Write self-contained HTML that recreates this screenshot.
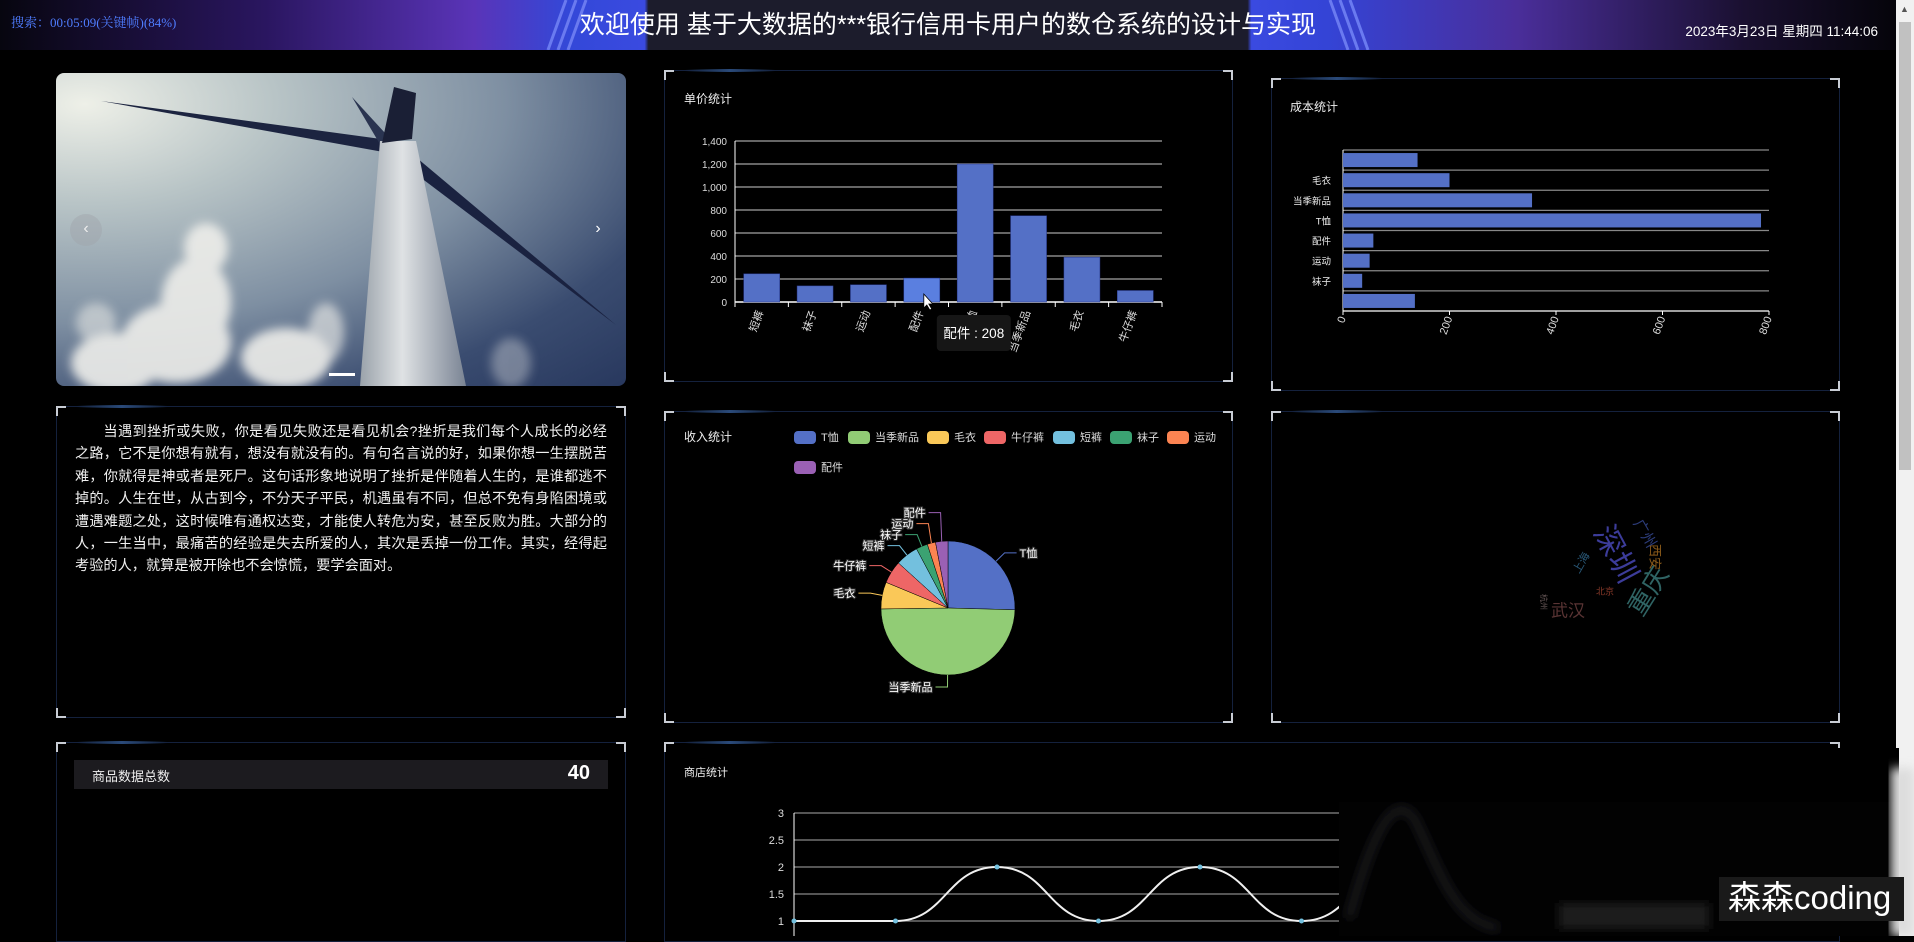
<!DOCTYPE html>
<html><head><meta charset="utf-8">
<style>
*{margin:0;padding:0;box-sizing:border-box}
body{width:1914px;height:936px;background:#000;overflow:hidden;position:relative;font-family:"Liberation Sans","Noto Sans CJK SC",sans-serif;color:#fff}
.abs{position:absolute}
.panel{position:absolute;border:1px solid #14213d}
.panel .c{position:absolute;width:10px;height:10px;border-color:#c8ccd4;border-style:solid;border-width:0}
.tl{left:-1px;top:-1px;border-left-width:2px!important;border-top-width:2px!important}
.tr{right:-1px;top:-1px;border-right-width:2px!important;border-top-width:2px!important}
.bl{left:-1px;bottom:-1px;border-left-width:2px!important;border-bottom-width:2px!important}
.br{right:-1px;bottom:-1px;border-right-width:2px!important;border-bottom-width:2px!important}
.glow{position:absolute;top:-2px;left:20px;width:90px;height:3px;background:linear-gradient(90deg,transparent,#2a4a7a,transparent)}
svg text{font-family:"Liberation Sans","Noto Sans CJK SC",sans-serif}
</style></head><body>

<!-- header -->
<div class="abs" style="left:0;top:0;width:1896px;height:50px;background:linear-gradient(90deg,#07060f 0%,#2a1660 14%,#5a34b8 25%,#3348d8 30%,#3a4ae0 34%,#1c1c2c 34.2%,#1c1c2c 65.8%,#3a4ae0 66%,#3444d6 70%,#4a2e9a 80%,#1a1030 92%,#05040a 100%)"></div>
<svg class="abs" style="left:0;top:0" width="1896" height="50">
<g stroke="#6a7af0" stroke-width="3">
<line x1="566" y1="0" x2="548" y2="50"/><line x1="576" y1="0" x2="558" y2="50"/><line x1="586" y1="0" x2="568" y2="50"/>
<line x1="1330" y1="0" x2="1348" y2="50"/><line x1="1340" y1="0" x2="1358" y2="50"/><line x1="1350" y1="0" x2="1368" y2="50"/>
</g></svg>
<div class="abs" style="left:11px;top:12px;font-family:'Liberation Serif','Noto Serif CJK SC',serif;font-size:13px;color:#4f7dff">搜索：00:05:09(关键帧)(84%)</div>
<div class="abs" style="left:0;width:1896px;top:10px;text-align:center;font-size:25px;color:#fff;line-height:30px">欢迎使用 基于大数据的***银行信用卡用户的数仓系统的设计与实现</div>
<div class="abs" style="right:36px;top:20px;font-size:13.5px;color:#fff">2023年3月23日 星期四 11:44:06</div>

<!-- scrollbar -->
<div class="abs" style="left:1896px;top:0;width:18px;height:936px;background:#f1f1f1">
<div class="abs" style="left:4px;top:4px;font-size:9px;color:#555">▲</div>
<div class="abs" style="left:3px;top:22px;width:12px;height:448px;background:#c1c1c1"></div>
</div>

<!-- image carousel -->
<div class="abs" style="left:56px;top:73px;width:570px;height:313px;border-radius:8px;overflow:hidden;background:radial-gradient(ellipse at 5% 10%,#eef0e8 0%,#b8c4c6 25%,#7e8fa2 55%,#3a4c70 80%,#28385e 100%)">
<svg width="570" height="313">
<defs><filter id="bl"><feGaussianBlur stdDeviation="5"/></filter>
<linearGradient id="tw" x1="0" x2="1"><stop offset="0" stop-color="#9aa2aa"/><stop offset="0.4" stop-color="#dfe2e4"/><stop offset="1" stop-color="#7a8494"/></linearGradient></defs>
<g filter="url(#bl)" fill="#eeeeea" opacity="0.9">
<ellipse cx="140" cy="230" rx="35" ry="45"/><ellipse cx="150" cy="175" rx="22" ry="25"/><ellipse cx="120" cy="270" rx="55" ry="40"/><ellipse cx="60" cy="290" rx="45" ry="30"/><ellipse cx="230" cy="285" rx="45" ry="30"/><ellipse cx="40" cy="250" rx="20" ry="20" opacity="0.6"/><ellipse cx="270" cy="260" rx="18" ry="30" opacity="0.7"/><ellipse cx="455" cy="290" rx="20" ry="25" opacity="0.4"/>
</g>
<polygon points="45,28 340,68 344,82" fill="#1c2440"/>
<polygon points="296,24 340,72 328,78" fill="#2a3450"/>
<polygon points="355,80 560,252 348,92" fill="#1a2240"/>
<polygon points="324,68 360,68 410,313 304,313" fill="url(#tw)"/>
<polygon points="338,14 360,20 356,66 326,70" fill="#1a1f35"/>
<rect x="273" y="300" width="26" height="3" fill="#fff"/>
</svg>
<div class="abs" style="left:14px;top:141px;width:32px;height:32px;border-radius:50%;background:rgba(160,165,170,0.45);color:#eee;text-align:center;line-height:30px;font-size:16px">‹</div>
<div class="abs" style="left:532px;top:141px;width:20px;height:32px;color:#fff;text-align:center;line-height:30px;font-size:16px">›</div>
</div>

<!-- text panel -->
<div class="panel" style="left:56px;top:406px;width:570px;height:312px">
<div class="c tl"></div><div class="c tr"></div><div class="c bl"></div><div class="c br"></div><div class="glow"></div>
<p style="position:absolute;left:18px;top:14px;width:532px;font-size:14.2px;line-height:22.4px;text-indent:2em;text-align:justify;color:#f0f0f0">当遇到挫折或失败，你是看见失败还是看见机会?挫折是我们每个人成长的必经之路，它不是你想有就有，想没有就没有的。有句名言说的好，如果你想一生摆脱苦难，你就得是神或者是死尸。这句话形象地说明了挫折是伴随着人生的，是谁都逃不掉的。人生在世，从古到今，不分天子平民，机遇虽有不同，但总不免有身陷困境或遭遇难题之处，这时候唯有通权达变，才能使人转危为安，甚至反败为胜。大部分的人，一生当中，最痛苦的经验是失去所爱的人，其次是丢掉一份工作。其实，经得起考验的人，就算是被开除也不会惊慌，要学会面对。</p>
</div>

<!-- bottom left -->
<div class="panel" style="left:56px;top:742px;width:570px;height:200px">
<div class="c tl"></div><div class="c tr"></div><div class="glow"></div>
<div class="abs" style="left:17px;top:17px;width:534px;height:29px;background:#1c1b1f">
<span class="abs" style="left:18px;top:6px;font-size:13px;color:#eee">商品数据总数</span>
<span class="abs" style="right:18px;top:2px;font-size:20px;font-weight:bold;color:#fff">40</span>
</div>
</div>

<!-- bar panel -->
<div class="panel" style="left:664px;top:70px;width:569px;height:312px">
<div class="c tl"></div><div class="c tr"></div><div class="c bl"></div><div class="c br"></div><div class="glow"></div>
</div>
<svg id="barSvg" class="abs" style="left:0;top:0" width="1914" height="936"></svg>

<!-- cost panel -->
<div class="panel" style="left:1271px;top:78px;width:569px;height:313px">
<div class="c tl"></div><div class="c tr"></div><div class="c bl"></div><div class="c br"></div><div class="glow"></div>
</div>

<!-- pie panel -->
<div class="panel" style="left:664px;top:411px;width:569px;height:312px">
<div class="c tl"></div><div class="c tr"></div><div class="c bl"></div><div class="c br"></div><div class="glow"></div>
</div>

<!-- wordcloud panel -->
<div class="panel" style="left:1271px;top:411px;width:569px;height:312px">
<div class="c tl"></div><div class="c tr"></div><div class="c bl"></div><div class="c br"></div><div class="glow"></div>
</div>

<!-- store panel -->
<div class="panel" style="left:664px;top:742px;width:1176px;height:200px">
<div class="c tl"></div><div class="c tr"></div><div class="glow"></div>
</div>

<svg id="chartSvg" class="abs" style="left:0;top:0" width="1914" height="936"></svg>

<!-- watermark overlay -->
<svg class="abs" style="left:1339px;top:748px" width="575" height="188">
<defs><filter id="b2"><feGaussianBlur stdDeviation="5"/></filter></defs>
<rect x="0" y="54" width="560" height="134" fill="#020202"/>
<rect x="0" y="0" width="560" height="54" fill="#000"/>
<path d="M10,170 C40,60 60,50 75,70 C100,120 115,175 160,180" stroke="#242428" stroke-width="6" fill="none" filter="url(#b2)"/>
<rect x="220" y="155" width="150" height="26" fill="#1c1c1c" filter="url(#b2)"/>
<rect x="552" y="20" width="23" height="168" fill="#ddd" filter="url(#b2)"/>
</svg>
<div class="abs" style="left:1719px;top:877px;width:185px;height:44px;background:#1a1a1a;font-size:33px;line-height:42px;padding-left:9px;color:#fff">森森coding</div>

<script>
// ---- price bar chart data ----
const barCategories=['短裤','袜子','运动','配件','T恤','当季新品','毛衣','牛仔裤'];
const barValues=[245,140,150,208,1200,750,390,100];
const barTicks=[0,200,400,600,800,1000,1200,1400];
// ---- cost chart data ----
const costCategories=['短裤','袜子','运动','配件','T恤','当季新品','毛衣','牛仔裤'];
const costValues=[135,36,50,57,785,355,200,140];
const costTicks=[0,200,400,600,800];
// ---- income pie data ----
const pieNames=['T恤','当季新品','毛衣','牛仔裤','短裤','袜子','运动','配件'];
const pieValues=[25.5,49.5,6.5,5.5,5.5,2.8,2,3];
const pieColors=['#5470c6','#91cc75','#fac858','#ee6666','#73c0de','#3ba272','#fc8452','#9a60b4'];
// ---- store line data ----
const lineValues=[1,1,2,1,2,1,2,1];
const lineTicks=[1,1.5,2,2.5,3];
// ---- city word cloud ----
const cityNames=['深圳','重庆','武汉','西安','广州','上海','北京','杭州'];
const citySizes=[30,26,17,13,15,11,9,8];

const NS='http://www.w3.org/2000/svg';
function mk(parent,tag,attrs,txt){const e=document.createElementNS(NS,tag);for(const k in attrs)e.setAttribute(k,attrs[k]);if(txt!==undefined)e.textContent=txt;parent.appendChild(e);return e;}
const svg=document.getElementById('chartSvg');
const barSvg=document.getElementById('barSvg');
const fmt=v=>v.toLocaleString('en-US');

// ===== bar chart =====
(function(){
 const x0=735,x1=1162,yb=302,yt=141,vmax=1400;
 const ys=v=>yb-(v/vmax)*(yb-yt);
 const cw=(x1-x0)/barCategories.length;
 let t=mk(barSvg,'text',{x:684,y:103,'font-size':12,fill:'#eee'},'单价统计');
 
 
 barTicks.forEach(v=>{
  mk(barSvg,'line',{x1:x0,x2:x1,y1:ys(v),y2:ys(v),stroke:v===0?'#fff':'#888','stroke-width':1.5});
  const l=mk(barSvg,'text',{x:x0-8,y:ys(v)+4,'font-size':10,fill:'#ddd','text-anchor':'end'},fmt(v));
  
  
 });
 mk(barSvg,'line',{x1:x0,x2:x0,y1:yt,y2:yb,stroke:'#fff','stroke-width':1});
 barCategories.forEach((c,i)=>{
  const cx=x0+cw*(i+0.5);
  mk(barSvg,'line',{x1:x0+cw*i,x2:x0+cw*i,y1:yb,y2:yb+5,stroke:'#fff'});
  const r=mk(barSvg,'rect',{x:cx-18,y:ys(barValues[i]),width:36,height:yb-ys(barValues[i]),fill:i===3?'#5a7fe0':'#5470c6',stroke:'#2a3a90','stroke-width':0.5});
  
  
  const l=mk(barSvg,'text',{x:cx+2,y:yb+10,'font-size':11,fill:'#ddd','text-anchor':'end',transform:`rotate(-70 ${cx+2} ${yb+10})`},c);
  
  
 });
 mk(barSvg,'line',{x1:x1,x2:x1,y1:yb,y2:yb+5,stroke:'#fff'});
 // tooltip
 const ti=3,tx=x0+cw*(ti+0.5);
 const g=mk(barSvg,'g',{});
 
 
 mk(g,'rect',{x:tx+15,y:315,width:74,height:36,rx:4,fill:'#161616'});
 mk(g,'text',{x:tx+52,y:338,'font-size':13.5,fill:'#fff','text-anchor':'middle'},barCategories[ti]+' : '+barValues[ti]);
 mk(g,'path',{d:`M${tx+2},${yb-8} l0,14 l3,-3 l3,5 l2,-1 l-3,-5 l4,0 z`,fill:'#fff',stroke:'#000','stroke-width':0.8});
})();

// ===== cost chart =====
(function(){
 const x0=1343,x1=1769,yt=150,yb=311,vmax=800;
 const xs=v=>x0+(v/vmax)*(x1-x0);
 const n=costCategories.length,rh=(yb-yt)/n;
 let t=mk(svg,'text',{x:1290,y:111,'font-size':12,fill:'#eee'},'成本统计');
 
 
 for(let i=0;i<=n;i++) mk(svg,'line',{x1:x0,x2:x1,y1:yt+rh*i,y2:yt+rh*i,stroke:i===n?'#fff':'#888','stroke-width':1.2});
 mk(svg,'line',{x1:x0,x2:x0,y1:yt,y2:yb,stroke:'#fff'});
 costCategories.forEach((c,i)=>{
  const yc=yb-rh*(i+0.5);
  const r=mk(svg,'rect',{x:x0,y:yc-7,width:xs(costValues[i])-x0,height:14,fill:'#5470c6'});
  
  
  if(i>0&&i<n-1){
   const l=mk(svg,'text',{x:x0-12,y:yc+4,'font-size':9.5,fill:'#eee','text-anchor':'end'},c);
   
   
  }
 });
 costTicks.forEach(v=>{
  mk(svg,'line',{x1:xs(v),x2:xs(v),y1:yb,y2:yb+4,stroke:'#fff'});
  const l=mk(svg,'text',{x:xs(v)+3,y:yb+7,'font-size':11,fill:'#ddd','text-anchor':'end',transform:`rotate(-70 ${xs(v)+3} ${yb+7})`},String(v));
  
  
 });
})();

// ===== pie chart =====
(function(){
 const cx=948,cy=608,r=67;
 let t=mk(svg,'text',{x:684,y:441,'font-size':12,fill:'#eee'},'收入统计');
 
 
 const lx=[794,848,927,984,1053,1110,1167,794],ly=[437,437,437,437,437,437,437,467];
 pieNames.forEach((n,i)=>{
  const g=mk(svg,'g',{});
  
  
  mk(g,'rect',{x:lx[i],y:ly[i]-6,width:22,height:13,rx:4,fill:pieColors[i]});
  mk(g,'text',{x:lx[i]+27,y:ly[i]+4,'font-size':11,fill:'#ddd'},n);
 });
 const tot=pieValues.reduce((a,b)=>a+b,0);
 let a=-Math.PI/2;
 const left=[];
 pieValues.forEach((v,i)=>{
  const da=v/tot*2*Math.PI,a2=a+da;
  const p1=[cx+r*Math.cos(a),cy+r*Math.sin(a)],p2=[cx+r*Math.cos(a2),cy+r*Math.sin(a2)];
  const s=mk(svg,'path',{d:`M${cx},${cy} L${p1[0]},${p1[1]} A${r},${r} 0 ${da>Math.PI?1:0} 1 ${p2[0]},${p2[1]} Z`,fill:pieColors[i],stroke:'#000','stroke-width':0.5});
  
  
  const m=a+da/2;
  const e=[cx+r*Math.cos(m),cy+r*Math.sin(m)];
  const o=[cx+(r+12)*Math.cos(m),cy+(r+12)*Math.sin(m)];
  const right=Math.cos(m)>=0;
  left.push({i,e,o,right,y:o[1]});
  a=a2;
 });
 const ls=left.filter(d=>!d.right).sort((p,q)=>q.y-p.y);
 for(let k=1;k<ls.length;k++) if(ls[k-1].y-ls[k].y<11) ls[k].y=ls[k-1].y-11;
 left.forEach(d=>{
  const ex=d.right?d.o[0]+12:d.o[0]-12;
  mk(svg,'polyline',{points:`${d.e[0]},${d.e[1]} ${d.o[0]},${d.y} ${ex},${d.y}`,fill:'none',stroke:pieColors[d.i],'stroke-width':1});
  const l=mk(svg,'text',{x:d.right?ex+3:ex-3,y:d.y+4,'font-size':11,fill:'#fff',stroke:'#333','stroke-width':2,'paint-order':'stroke','text-anchor':d.right?'start':'end'},pieNames[d.i]);
  
  
 });
})();

// ===== word cloud =====
(function(){
 const pos=[[1614,555,62],[1650,592,-58],[1568,612,0],[1654,557,90],[1644,534,60],[1582,563,-60],[1605,592,0],[1543,602,90]];
 const cols=['#3c3c9a','#2f6464','#5a3434','#8a5a1a','#2c3c7a','#2a5a7a','#8a3a2a','#6a5a5a'];
 cityNames.forEach((c,i)=>{
  const [x,y,rot]=pos[i];
  const w=mk(svg,'text',{x,y,'font-size':citySizes[i],fill:cols[i],'text-anchor':'middle','dominant-baseline':'middle',transform:`rotate(${rot} ${x} ${y})`},c);
  
  
 });
})();

// ===== line chart =====
(function(){
 const x0=794,dx=101.5,yb=921,yt=813,vmin=1,vmax=3;
 const ys=v=>yb-(v-vmin)/(vmax-vmin)*(yb-yt);
 let t=mk(svg,'text',{x:684,y:776,'font-size':11,fill:'#eee'},'商店统计');
 
 
 lineTicks.forEach(v=>{
  mk(svg,'line',{x1:x0,x2:1760,y1:ys(v),y2:ys(v),stroke:'#888','stroke-width':1.2});
  const l=mk(svg,'text',{x:x0-10,y:ys(v)+4,'font-size':11,fill:'#ddd','text-anchor':'end'},String(v));
  
  
 });
 mk(svg,'line',{x1:x0,x2:x0,y1:yt,y2:936,stroke:'#fff'});
 let d='';
 lineValues.forEach((v,i)=>{
  const x=x0+dx*i,y=ys(v);
  if(i===0)d=`M${x},${y}`;else{const px=x0+dx*(i-1),py=ys(lineValues[i-1]);d+=` C${px+dx/2},${py} ${x-dx/2},${y} ${x},${y}`;}
 });
 const p=mk(svg,'path',{d,fill:'none',stroke:'#f0f0f0','stroke-width':2});
 
 
 lineValues.forEach((v,i)=>{
  const c=mk(svg,'circle',{cx:x0+dx*i,cy:ys(v),r:2.5,fill:'#73c0de'});
  
  
 });
})();
</script>
</body></html>
